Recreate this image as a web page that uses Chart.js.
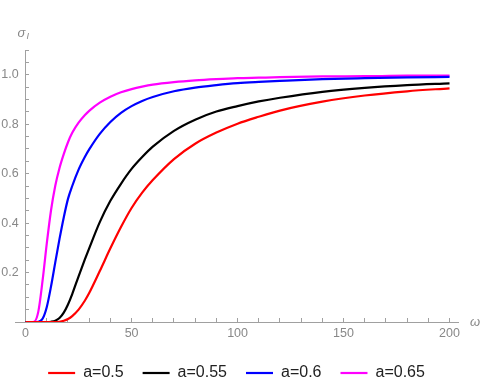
<!DOCTYPE html>
<html>
<head>
<meta charset="utf-8">
<script src="https://cdn.jsdelivr.net/npm/chart.js@4.4.0/dist/chart.umd.min.js"></script>
<style>
  html, body { margin: 0; padding: 0; background: #fff; }
  #wrap { width: 480px; height: 389px; position: relative; }
</style>
</head>
<body>
<div id="wrap"><canvas id="sigmaChart"></canvas></div>
<script>
// omega samples
const omega = [0, 2, 4, 6, 8, 10, 12, 14, 16, 18, 20, 22, 25, 28, 30, 35, 40, 45, 50, 55, 60, 70, 80, 90, 100, 110, 120, 140, 160, 180, 200];

// sigma_I for each value of a
const sigmaA050 = [0, 0, 0, 0, 0, 0, 0, 0, 0.001, 0.005, 0.012, 0.024, 0.05, 0.087, 0.117, 0.206, 0.298, 0.384, 0.461, 0.523, 0.574, 0.659, 0.721, 0.766, 0.802, 0.83, 0.855, 0.891, 0.916, 0.933, 0.945];
const sigmaA055 = [0, 0, 0, 0, 0, 0, 0.001, 0.005, 0.016, 0.038, 0.071, 0.113, 0.185, 0.254, 0.298, 0.404, 0.49, 0.559, 0.619, 0.667, 0.709, 0.773, 0.818, 0.851, 0.873, 0.892, 0.907, 0.931, 0.947, 0.958, 0.965];
const sigmaA060 = [0, 0, 0, 0.001, 0.013, 0.061, 0.144, 0.241, 0.336, 0.423, 0.498, 0.55, 0.616, 0.668, 0.698, 0.761, 0.809, 0.846, 0.873, 0.894, 0.91, 0.933, 0.948, 0.958, 0.966, 0.971, 0.975, 0.982, 0.986, 0.989, 0.991];
const sigmaA065 = [0, 0, 0.001, 0.042, 0.167, 0.318, 0.452, 0.551, 0.623, 0.679, 0.727, 0.765, 0.806, 0.837, 0.854, 0.887, 0.911, 0.929, 0.942, 0.952, 0.96, 0.97, 0.977, 0.982, 0.986, 0.988, 0.99, 0.993, 0.994, 0.996, 0.996];

const seriesLabels = ['a=0.5', 'a=0.55', 'a=0.6', 'a=0.65'];
const seriesColors = ['#ff0000', '#000000', '#0000ff', '#ff00ff'];
const seriesValues = [sigmaA050, sigmaA055, sigmaA060, sigmaA065];

// labelled ticks; unlabelled minor ticks fall between them
const xTickLabels = [0, 50, 100, 150, 200];
const yTickLabels = [0.2, 0.4, 0.6, 0.8, 1.0];

const xTicks = [];
for (let v = 0; v <= 200; v += 10) xTicks.push(v);
const yTicks = [];
for (let k = 1; k <= 22; k++) yTicks.push(Math.round(k * 5) / 100);

const axisGray = '#a0a0a0';
const labelGray = '#888888';
const fontFamily = '"Liberation Sans", Arial, sans-serif';

// axis symbols drawn next to the axis ends, like the original
const axisSymbols = {
    id: 'axisSymbols',
    afterDraw(chart) {
        const { ctx, chartArea, scales } = chart;
        const x0 = scales.x.getPixelForValue(0);
        const y0 = scales.y.getPixelForValue(0);
        ctx.save();
        ctx.fillStyle = labelGray;
        ctx.textBaseline = 'middle';
        ctx.textAlign = 'left';
        ctx.font = 'italic 13px ' + fontFamily;
        ctx.fillText('ω', chartArea.right + 12, y0);
        ctx.fillText('σ', x0 - 8, chartArea.top - 17);
        ctx.font = 'italic 9px ' + fontFamily;
        ctx.fillText('I', x0 + 1, chartArea.top - 14);
        ctx.restore();
    }
};

const ctx = document.getElementById('sigmaChart').getContext('2d');

new Chart(ctx, {
    type: 'line',
    data: {
        datasets: seriesLabels.map((label, i) => ({
            label: label,
            data: omega.map((w, j) => ({ x: w, y: seriesValues[i][j] })),
            borderColor: seriesColors[i],
            backgroundColor: seriesColors[i],
            borderWidth: 2.2,
            pointRadius: 0,
            fill: false,
            cubicInterpolationMode: 'monotone'
        }))
    },
    options: {
        responsive: true,
        maintainAspectRatio: false,
        animation: false,
        layout: {
            padding: { left: 15, right: 22, top: 50, bottom: -2 }
        },
        scales: {
            x: {
                type: 'linear',
                min: -5,
                max: 204,
                afterBuildTicks: axis => { axis.ticks = xTicks.map(v => ({ value: v })); },
                afterFit: axis => { axis.height -= 3; },
                border: { color: axisGray, width: 1 },
                grid: { drawOnChartArea: false, tickLength: -4, color: axisGray },
                ticks: {
                    autoSkip: false,
                    maxRotation: 0,
                    padding: 8,
                    color: labelGray,
                    font: { size: 12.5, family: fontFamily },
                    callback: v => xTickLabels.includes(v) ? String(v) : ''
                }
            },
            y: {
                axis: 'y',
                type: 'linear',
                position: { x: 0 },
                min: 0,
                max: 1.1,
                afterBuildTicks: axis => { axis.ticks = yTicks.map(v => ({ value: v })); },
                border: { color: axisGray, width: 1 },
                grid: { drawOnChartArea: false, tickLength: -4, color: axisGray },
                ticks: {
                    autoSkip: false,
                    color: labelGray,
                    font: { size: 12.5, family: fontFamily },
                    callback: v => yTickLabels.some(t => Math.abs(t - v) < 1e-9) ? v.toFixed(1) + '  ' : ''
                }
            }
        },
        plugins: {
            legend: {
                position: 'bottom',
                labels: {
                    usePointStyle: true,
                    pointStyle: 'line',
                    pointStyleWidth: 27,
                    padding: 19,
                    color: '#222222',
                    font: { size: 16, family: fontFamily }
                }
            },
            tooltip: { enabled: false }
        }
    },
    plugins: [axisSymbols]
});
</script>
</body>
</html>
